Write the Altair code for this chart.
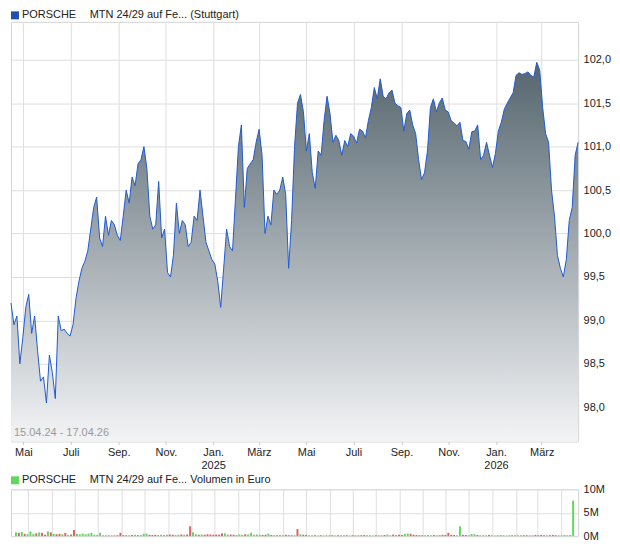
import altair as alt
import pandas as pd

# ---------------- data ----------------
START, END = "2024-04-15", "2026-04-17"

price = [
    99.2, 98.95, 99.05, 98.5, 98.8, 99.15, 99.3, 98.85, 99.05, 98.65,
    98.3, 98.35, 98.05, 98.6, 98.4, 98.1, 99.05, 98.88, 98.9, 98.85,
    98.82, 98.95, 99.25, 99.45, 99.6, 99.68, 99.8, 100.05, 100.3, 100.42,
    99.95, 99.85, 100.2, 99.98, 100.15, 100.1, 99.98, 99.92, 100.2, 100.5,
    100.35, 100.65, 100.55, 100.8, 100.85, 101.0, 100.75, 100.2, 100.05, 100.1,
    100.6, 99.95, 100.05, 99.55, 99.5, 99.75, 100.35, 100.0, 100.15, 100.1,
    99.85, 99.9, 100.2, 100.15, 100.5, 100.2, 99.9, 99.8, 99.7, 99.65,
    99.45, 99.15, 99.6, 100.05, 99.85, 99.8, 100.4, 101.0, 101.25, 100.3,
    100.75, 100.8, 100.85, 101.05, 101.2, 100.9, 100.0, 100.2, 100.1, 100.5,
    100.45, 100.5, 100.65, 100.45, 99.6, 100.15, 101.0, 101.5, 101.6, 101.4,
    100.95, 101.15, 100.7, 100.52, 100.95, 100.9, 101.3, 101.58, 101.38, 101.05,
    101.13, 101.07, 100.9, 101.07, 101.0, 101.15, 101.12, 101.04, 101.2, 101.18,
    101.1, 101.3, 101.45, 101.68, 101.55, 101.78, 101.58, 101.55, 101.62, 101.65,
    101.5, 101.47, 101.45, 101.18, 101.38, 101.42, 101.25, 101.15, 100.85, 100.62,
    100.7, 100.95, 101.45, 101.55, 101.4, 101.5, 101.56, 101.42, 101.4, 101.3,
    101.27, 101.24, 101.28, 101.07, 101.06, 100.97, 101.17, 101.18, 101.25, 100.85,
    100.9, 101.05, 100.9, 100.76, 100.92, 101.18, 101.28, 101.43, 101.5, 101.56,
    101.62, 101.82, 101.85, 101.83, 101.84, 101.86, 101.82, 101.8, 101.97, 101.88,
    101.45, 101.15, 101.05, 100.5, 100.2, 99.75, 99.6, 99.5, 99.7, 100.15,
    100.3, 100.9, 101.05,
]

volume_m = [
    0.8, 0.7, 0.9, 0.5, 0.4, 1.0, 0.5, 0.6, 0.8, 0.7,
    0.3, 1.0, 0.8, 0.5, 0.4, 0.5, 0.4, 0.7, 0.3, 0.35,
    1.3, 0.5, 0.4, 0.55, 0.4, 0.55, 0.7, 0.3, 0.25, 0.7,
    0.15, 0.15, 0.2, 0.15, 0.2, 0.2, 0.7, 0.2, 0.25, 0.2,
    0.25, 0.3, 0.2, 0.25, 0.5, 0.55, 0.3, 0.25, 0.3, 0.25,
    0.3, 0.2, 0.3, 0.35, 0.3, 0.25, 0.3, 0.35, 0.3, 0.35,
    2.1, 0.8, 0.4, 0.3, 0.35, 0.3, 0.4, 0.35, 0.3, 0.35,
    0.3, 0.6, 0.6, 0.3, 0.35, 0.3, 0.25, 0.35, 0.3, 0.4,
    0.35, 0.7, 0.3, 0.35, 0.3, 0.25, 0.3, 0.55, 0.25, 0.2,
    0.2, 0.25, 0.2, 0.3, 0.2, 0.25, 0.2, 1.5, 0.4, 0.3,
    0.25, 0.2, 0.15, 0.2, 0.15, 0.2, 0.15, 0.2, 0.15, 0.2,
    0.15, 0.2, 0.15, 0.2, 0.2, 0.15, 0.2, 0.15, 0.2, 0.2,
    0.25, 0.2, 0.2, 0.15, 0.2, 0.2, 0.15, 0.25, 0.35, 0.2,
    0.35, 0.2, 0.3, 0.25, 0.5, 0.55, 0.5, 0.3, 0.25, 0.2,
    0.25, 0.2, 0.25, 0.2, 0.25, 0.2, 0.25, 0.3, 0.25, 0.7,
    0.3, 0.25, 0.2, 2.1, 0.3, 0.25, 0.2, 0.45, 0.4, 0.25,
    0.2, 0.2, 0.15, 0.25, 0.2, 0.15, 0.2, 0.25, 0.2, 0.15,
    0.2, 0.25, 0.2, 0.15, 0.2, 0.25, 0.2, 0.15, 0.2, 0.25,
    0.2, 0.25, 0.2, 0.15, 0.2, 0.25, 0.2, 0.15, 0.2, 0.25,
    0.2, 0.25, 7.6,
]

# colours of the few clearly visible volume spikes
spike_dir = {20: "down", 60: "down", 97: "down", 153: "up", 192: "up"}

month_names = ["Jan.", "Feb.", "März", "Apr.", "Mai", "Juni",
               "Juli", "Aug.", "Sep.", "Okt.", "Nov.", "Dez."]
price_ticks = [98.0, 98.5, 99.0, 99.5, 100.0, 100.5, 101.0, 101.5, 102.0]
volume_ticks = [0, 5_000_000, 10_000_000]

main_legend = ["PORSCHE", "MTN 24/29 auf Fe... (Stuttgart)"]
vol_legend = ["PORSCHE", "MTN 24/29 auf Fe... Volumen in Euro"]
range_label = "15.04.24 - 17.04.26"

Y_MIN, Y_MAX = 97.607, 102.436

# ---------------- build table ----------------
dates = pd.date_range(START, END, periods=len(price))
direction = ["up"] + ["up" if price[i] >= price[i - 1] else "down" for i in range(1, len(price))]
for k, v in spike_dir.items():
    direction[k] = v
df = pd.DataFrame({
    "date": dates,
    "price": price,
    "vol": [v * 1e6 for v in volume_m],
    "dir": direction,
})

month_vals = [alt.DateTime(year=d.year, month=d.month, date=1)
              for d in pd.date_range("2024-05-01", "2026-04-01", freq="MS")]
x_domain = [alt.DateTime(year=2024, month=4, date=15), alt.DateTime(year=2026, month=4, date=17)]

FONT = "Liberation Sans"
GRID = "#dedede"
W = 569

names_js = "[" + ",".join("'%s'" % m for m in month_names) + "]"
x_label_expr = (
    "month(datum.value) % 2 == 0 ? "
    "(month(datum.value) == 0 ? ['Jan.', '' + year(datum.value)] : "
    + names_js + "[month(datum.value)]) : ''"
)

x_axis_main = alt.Axis(
    values=month_vals, labelExpr=x_label_expr, grid=True, gridColor=GRID,
    tickSize=3, tickColor="#cccccc", domain=False, labelOverlap=False,
    labelFlush=False, labelPadding=2, labelLineHeight=13, labelBaseline="top",
    title=None,
)
y_axis_main = alt.Axis(
    orient="right", values=price_ticks,
    labelExpr="replace(format(datum.value, '.1f'), '.', ',')",
    grid=True, gridColor=GRID, ticks=False, domain=False, labelPadding=5,
    title=None,
)

gradient = alt.Gradient(
    gradient="linear",
    stops=[alt.GradientStop(color="#55656e", offset=0),
           alt.GradientStop(color="#f3f4f6", offset=1)],
    x1=0, x2=0, y1=0, y2=1,
)

base = alt.Chart(df)
xs = alt.X("date:T", scale=alt.Scale(domain=x_domain, nice=False), axis=x_axis_main)
ys = alt.Y("price:Q", scale=alt.Scale(domain=[Y_MIN, Y_MAX], nice=False, zero=False),
           axis=y_axis_main)

area = base.mark_area(color=gradient).encode(x=xs, y=ys, y2=alt.datum(Y_MIN))
line = base.mark_line(color="#1f5bd0", strokeWidth=1).encode(x="date:T", y="price:Q")

sq_main = alt.Chart(pd.DataFrame({"t": [main_legend[0]]})).mark_rect(color="#1f4fb0").encode(
    x=alt.value(0), x2=alt.value(8), y=alt.value(-10.5), y2=alt.value(-2.5))
t1 = alt.Chart(pd.DataFrame({"t": [main_legend[0]]})).mark_text(
    align="left", baseline="middle", fontSize=11, font=FONT, color="#222").encode(
    text="t:N", x=alt.value(11), y=alt.value(-6.5))
t2 = alt.Chart(pd.DataFrame({"t": [main_legend[1]]})).mark_text(
    align="left", baseline="middle", fontSize=11, font=FONT, color="#222").encode(
    text="t:N", x=alt.value(79), y=alt.value(-6.5))
rng = alt.Chart(pd.DataFrame({"t": [range_label]})).mark_text(
    align="left", baseline="middle", fontSize=11, font=FONT, color="#9a9a9a").encode(
    text="t:N", x=alt.value(3), y=alt.value(413))

main = alt.layer(area, line, sq_main, t1, t2, rng).properties(width=W, height=421)

# ---------------- volume panel ----------------
x_axis_vol = alt.Axis(values=month_vals, grid=True, gridColor=GRID, labels=False,
                      ticks=False, domain=False, title=None)
y_axis_vol = alt.Axis(orient="right", values=volume_ticks,
                      labelExpr="format(datum.value / 1000000, 'd') + 'M'",
                      grid=True, gridColor=GRID, ticks=False, domain=False,
                      labelPadding=5, title=None)

bars = alt.Chart(df).mark_bar(size=2).encode(
    x=alt.X("date:T", scale=alt.Scale(domain=x_domain, nice=False), axis=x_axis_vol),
    y=alt.Y("vol:Q", scale=alt.Scale(domain=[0, 10_000_000], nice=False), axis=y_axis_vol),
    color=alt.Color("dir:N", scale=alt.Scale(domain=["up", "down"], range=["#5fd85f", "#e06464"]),
                    legend=None),
)
sq_vol = alt.Chart(pd.DataFrame({"t": [vol_legend[0]]})).mark_rect(color="#5fd85f").encode(
    x=alt.value(0), x2=alt.value(8), y=alt.value(-13), y2=alt.value(-5))
v1 = alt.Chart(pd.DataFrame({"t": [vol_legend[0]]})).mark_text(
    align="left", baseline="middle", fontSize=11, font=FONT, color="#222").encode(
    text="t:N", x=alt.value(11), y=alt.value(-9))
v2 = alt.Chart(pd.DataFrame({"t": [vol_legend[1]]})).mark_text(
    align="left", baseline="middle", fontSize=11, font=FONT, color="#222").encode(
    text="t:N", x=alt.value(79), y=alt.value(-9))

vol = alt.layer(bars, sq_vol, v1, v2).properties(width=W, height=47)

chart = (
    alt.vconcat(main, vol, spacing=48, bounds="flush")
    .properties(padding=0, background="white")
    .configure_view(stroke="#d4d4d4", strokeWidth=1)
    .configure_axis(labelFont=FONT, labelFontSize=11, labelColor="#222")
)

chart.save("out.html", embed_options={"renderer": "svg", "actions": False})
